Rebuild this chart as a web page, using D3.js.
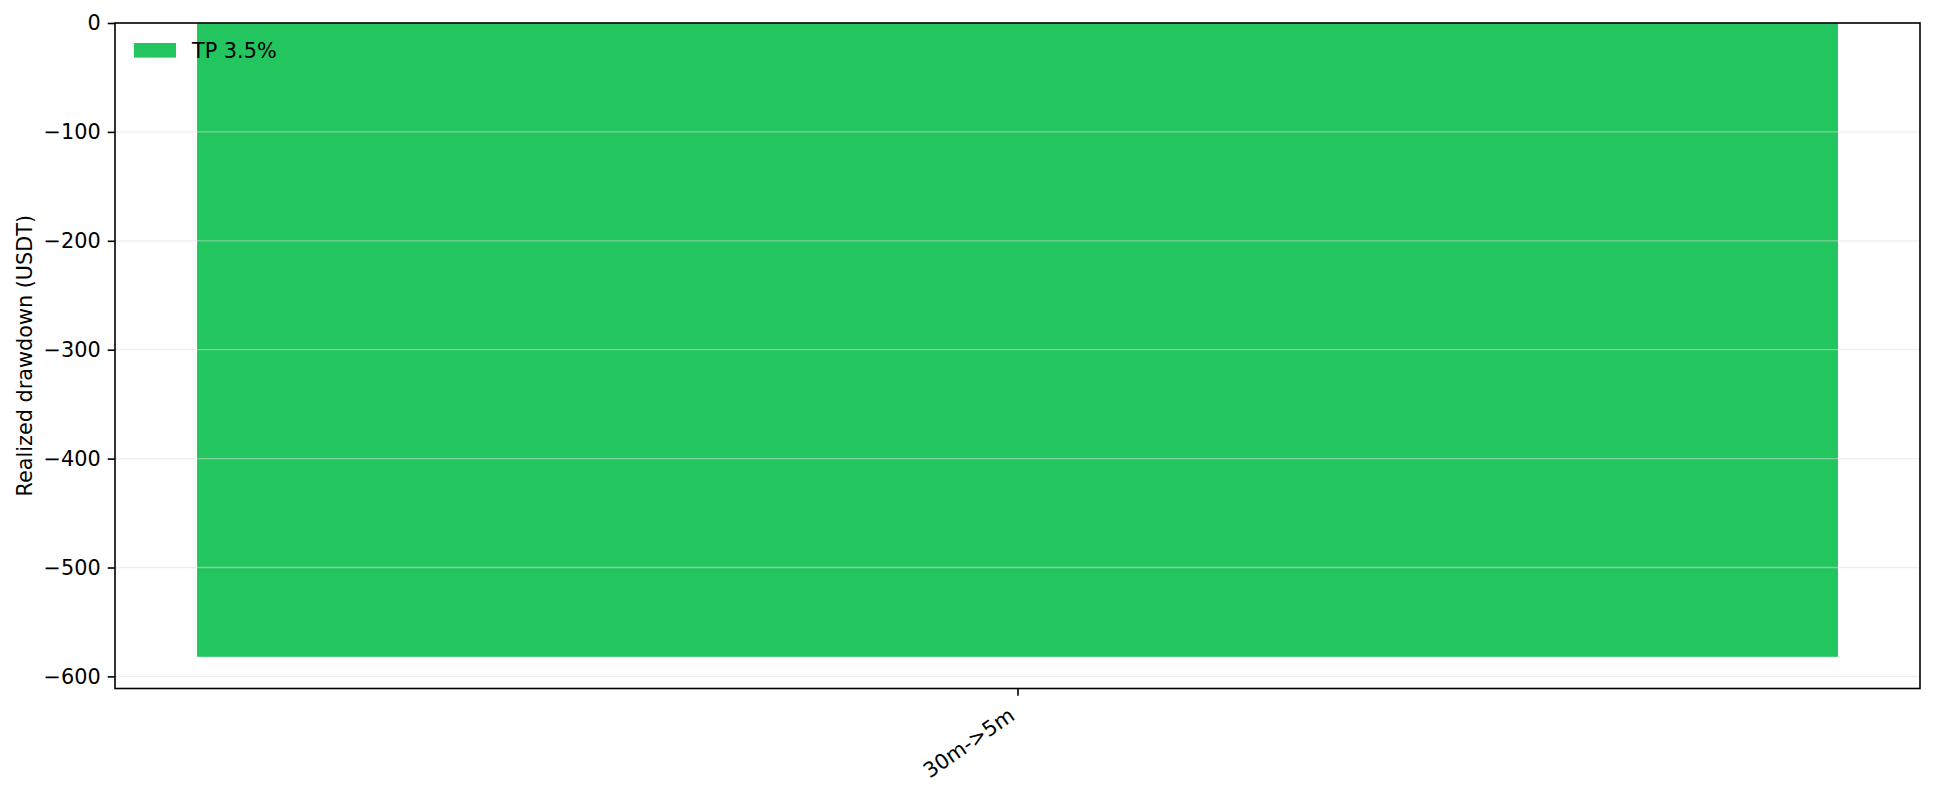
<!DOCTYPE html>
<html>
<head>
<meta charset="utf-8">
<script src="https://cdn.jsdelivr.net/npm/d3@7"></script>
<style>
  html, body { margin: 0; padding: 0; background: #fff; }
  svg { display: block; font-family: "DejaVu Sans", sans-serif; }
</style>
</head>
<body>
<svg id="chart" width="1935" height="795"></svg>
<script>
// chart data
const categories = ["30m->5m"];
const seriesName = "TP 3.5%";
const seriesValues = [-582];
const yTicks = [0, -100, -200, -300, -400, -500, -600];
const yLabel = "Realized drawdown (USDT)";

const W = 1935, H = 795;
const margin = { left: 115, right: W - 1920, top: 23, bottom: H - 688.5 };
const fontSize = 20.8;
const barColor = "#22c55e";

const svg = d3.select("#chart");
const innerW = W - margin.left - margin.right;
const innerH = H - margin.top - margin.bottom;

// matplotlib-like autoscale: 5% margin below, sticky at zero
const minVal = d3.min(seriesValues);
const y = d3.scaleLinear()
    .domain([minVal * 1.05, 0])
    .range([margin.top + innerH, margin.top]);

// one category at x=0, bar width 0.8, 5% x margins
const x = d3.scaleLinear()
    .domain([-0.44, categories.length - 1 + 0.44])
    .range([margin.left, margin.left + innerW]);
const barWidth = 0.8;

// bars
svg.append("g")
    .selectAll("rect")
    .data(seriesValues)
    .join("rect")
    .attr("x", (d, i) => x(i - barWidth / 2))
    .attr("width", (d, i) => x(i + barWidth / 2) - x(i - barWidth / 2))
    .attr("y", d => y(0))
    .attr("height", d => y(d) - y(0))
    .attr("fill", barColor);

// horizontal grid, drawn above bars
svg.append("g")
    .selectAll("line")
    .data(yTicks)
    .join("line")
    .attr("x1", margin.left)
    .attr("x2", margin.left + innerW)
    .attr("y1", d => y(d))
    .attr("y2", d => y(d))
    .attr("stroke", "rgb(222,222,222)")
    .attr("stroke-opacity", 0.5)
    .attr("stroke-width", 1.3);

// y axis
const fmt = d => (d < 0 ? "\u2212" + Math.abs(d) : String(d));
const yAxis = svg.append("g")
    .attr("transform", `translate(${margin.left},0)`)
    .call(d3.axisLeft(y).tickValues(yTicks).tickFormat(fmt).tickSize(7.3).tickPadding(7));
yAxis.select(".domain").remove();
yAxis.selectAll(".tick line").attr("stroke", "#000").attr("stroke-width", 1.6);
yAxis.selectAll(".tick text")
    .attr("fill", "#000")
    .style("font-size", fontSize + "px")
    .style("font-family", "DejaVu Sans");

// x axis
const xAxis = svg.append("g")
    .attr("transform", `translate(0,${margin.top + innerH})`)
    .call(d3.axisBottom(x).tickValues(categories.map((c, i) => i))
        .tickFormat(i => categories[i]).tickSize(7.3));
xAxis.select(".domain").remove();
xAxis.selectAll(".tick line").attr("stroke", "#000").attr("stroke-width", 1.6);
xAxis.selectAll(".tick text")
    .attr("fill", "#000")
    .attr("text-anchor", "end")
    .attr("dy", null)
    .attr("y", 0)
    .attr("transform", "translate(-2,30) rotate(-35)")
    .style("font-size", fontSize + "px")
    .style("font-family", "DejaVu Sans");

// frame
svg.append("rect")
    .attr("x", margin.left)
    .attr("y", margin.top)
    .attr("width", innerW)
    .attr("height", innerH)
    .attr("fill", "none")
    .attr("stroke", "#000")
    .attr("stroke-width", 1.6);

// y label
svg.append("text")
    .attr("transform", `translate(32,${margin.top + innerH / 2}) rotate(-90)`)
    .attr("text-anchor", "middle")
    .style("font-size", fontSize + "px")
    .text(yLabel);

// legend (no frame)
const legend = svg.append("g").attr("transform", "translate(134,43)");
legend.append("rect")
    .attr("width", 42)
    .attr("height", 14.6)
    .attr("fill", barColor);
legend.append("text")
    .attr("x", 58)
    .attr("y", 14.8)
    .style("font-size", fontSize + "px")
    .text(seriesName);
</script>
</body>
</html>
